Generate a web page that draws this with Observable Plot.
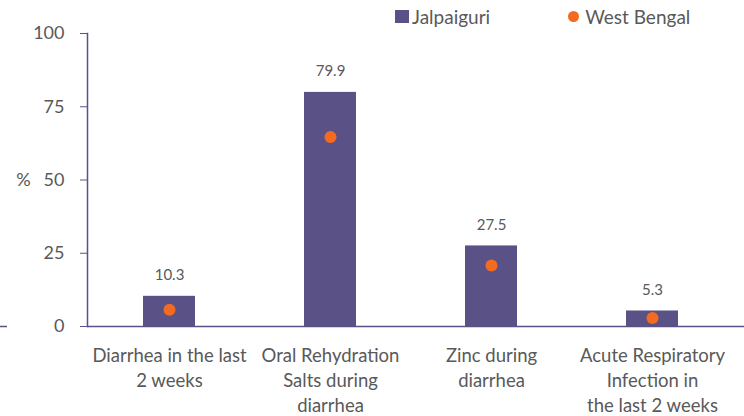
<!DOCTYPE html>
<html><head><meta charset="utf-8">
<script src="https://cdn.jsdelivr.net/npm/d3@7"></script>
<script src="https://cdn.jsdelivr.net/npm/@observablehq/plot@0.6"></script>
<style>
body{margin:0;background:#fff;font-family:Lato,"Open Sans",sans-serif;}
#wrap{position:relative;width:744px;height:416px;}
#legend{position:absolute;top:5px;left:395px;display:flex;align-items:center;font-size:19px;color:#595959;}
#legend .sq{width:14px;height:13px;background:#5A5286;display:inline-block;margin-right:3px;}
#legend .dot{width:11px;height:11px;border-radius:50%;background:#F26B21;display:inline-block;margin-right:6px;margin-left:78px;}
</style></head>
<body>
<div id="wrap">
<div id="chart"></div>
<div id="legend"><span class="sq"></span><span>Jalpaiguri</span><span class="dot"></span><span>West Bengal</span></div>
</div>
<script>
const categories = ["Diarrhea in the last\n2 weeks","Oral Rehydration\nSalts during\ndiarrhea","Zinc during\ndiarrhea","Acute Respiratory\nInfection in\nthe last 2 weeks"];
const jalpaiguri = [10.3, 79.9, 27.5, 5.3];
const westBengal = [5.7, 64.7, 20.8, 2.9];
const yTicks = [0, 25, 50, 75, 100];

const data = categories.map((c,i)=>({cat:c, j:jalpaiguri[i], w:westBengal[i]}));
const purple = "#5A5286", orange = "#F26B21", grey = "#595959";

const chart = Plot.plot({
  width: 744, height: 416,
  marginLeft: 87, marginRight: 11, marginTop: 33, marginBottom: 90,
  style: {fontFamily: "Lato, 'Open Sans', sans-serif", color: grey, background: "transparent", overflow: "visible"},
  x: {domain: categories, paddingInner: 0.68, paddingOuter: 0.34, axis: null},
  y: {domain: [0, 100], axis: null},
  marks: [
    Plot.barY(data, {x: "cat", y: "j", fill: purple}),
    Plot.dot(data, {x: "cat", y: "w", r: 6, fill: orange}),
    Plot.text(data, {x: "cat", y: "j", text: d => d.j.toFixed(1), dy: -21, fontSize: 15, fill: grey}),
    Plot.ruleY([0], {stroke: purple, strokeWidth: 1.5, insetRight: -11}),
    Plot.ruleY([0], {stroke: purple, strokeWidth: 1.5, insetLeft: -87, insetRight: 726}),
    Plot.axisY({ticks: yTicks, tickSize: 7, tickPadding: 16, fontSize: 18, stroke: purple, tickFormat: d => d, label: null}),
    Plot.frame({anchor: "left", stroke: purple, strokeWidth: 1.5}),
    Plot.text(["%"], {frameAnchor: "left", y: 50, dx: -64, fontSize: 18, fill: grey, textAnchor: "middle"}),
    Plot.text(data, {x: "cat", y: 0, text: "cat", lineAnchor: "top", dy: 18, fontSize: 18.5, lineHeight: 1.35, fill: grey})
  ]
});
document.getElementById("chart").appendChild(chart);
</script>
</body></html>
